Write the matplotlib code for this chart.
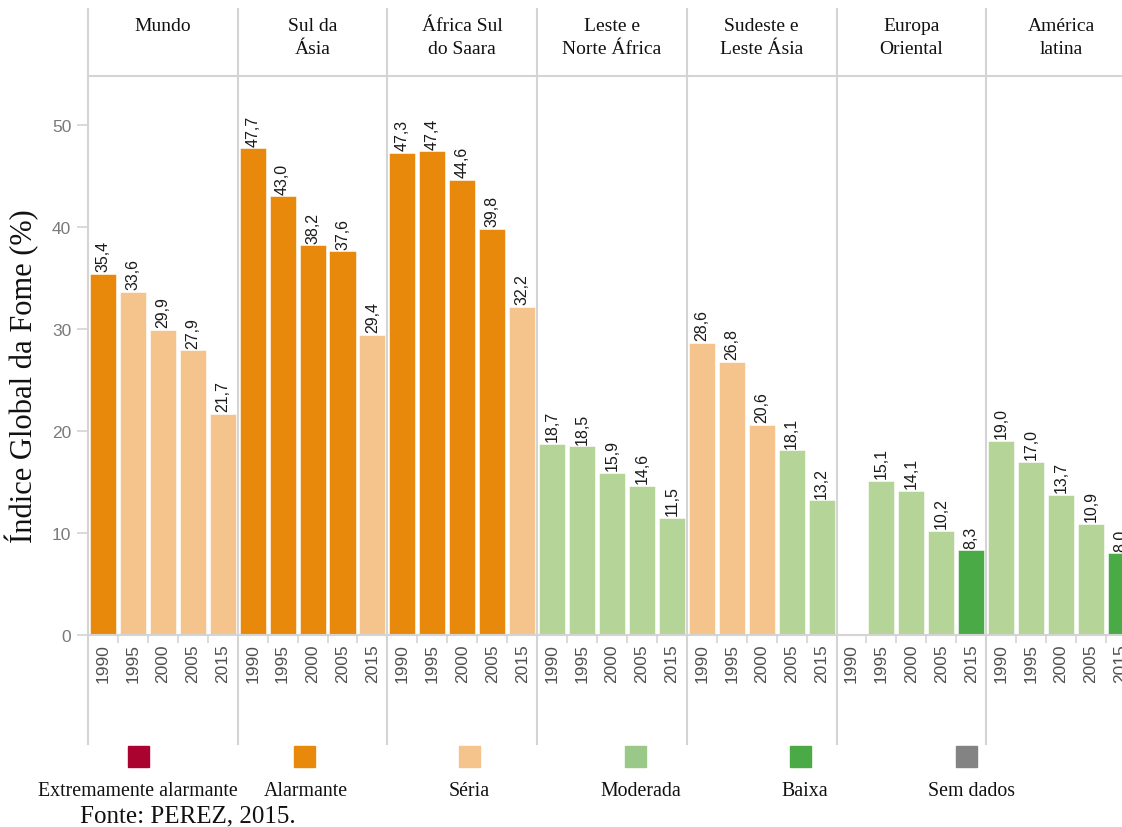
import matplotlib
matplotlib.use("Agg")
import matplotlib.pyplot as plt
from matplotlib.patches import Rectangle

# Índice Global da Fome por região e ano
regioes = ["Mundo", "Sul da\nÁsia", "África Sul\ndo Saara", "Leste e\nNorte África",
           "Sudeste e\nLeste Ásia", "Europa\nOriental", "América\nlatina"]
anos = ["1990", "1995", "2000", "2005", "2015"]

valores = [
    [35.4, 33.6, 29.9, 27.9, 21.7],
    [47.7, 43.0, 38.2, 37.6, 29.4],
    [47.3, 47.4, 44.6, 39.8, 32.2],
    [18.7, 18.5, 15.9, 14.6, 11.5],
    [28.6, 26.8, 20.6, 18.1, 13.2],
    [None, 15.1, 14.1, 10.2, 8.3],
    [19.0, 17.0, 13.7, 10.9, 8.0],
]

# classe de gravidade de cada barra
classes = [
    ["A", "S", "S", "S", "S"],
    ["A", "A", "A", "A", "S"],
    ["A", "A", "A", "A", "S"],
    ["M", "M", "M", "M", "M"],
    ["S", "S", "S", "M", "M"],
    [None, "M", "M", "M", "B"],
    ["M", "M", "M", "M", "B"],
]

cores = {"E": "#ab0330", "A": "#e8890c", "S": "#f5c48c", "M": "#b4d498",
         "B": "#4aaa45", "N": "#838383"}

legenda_rotulos = ["Extremamente alarmante", "Alarmante", "Séria", "Moderada",
                   "Baixa", "Sem dados"]
legenda_cores = ["#ab0330", "#e8890c", "#f5c48c", "#99c888", "#4aaa45", "#838383"]

SERIF = "Liberation Serif"
SANS = "Liberation Sans"
GRID = "#d4d4d4"

W, H = 1122, 828
fig = plt.figure(figsize=(W / 100, H / 100), dpi=100)

slot = 29.94
ax = fig.add_axes([88 / W, (H - 636) / H, 35 * slot / W, 559 / H])
ax.set_xlim(0, 35)
ax.set_ylim(0, 54.8)

# barras e rótulos de valor
for g, (vals, cls) in enumerate(zip(valores, classes)):
    for i, (v, c) in enumerate(zip(vals, cls)):
        if v is None:
            continue
        x = g * 5 + i + 0.5
        ax.bar(x, v, width=0.87, color=cores[c], edgecolor="white", linewidth=0.4)
        ax.annotate(f"{v:.1f}".replace(".", ","), (x, v), xytext=(0, 2),
                    textcoords="offset points", rotation=90, ha="center",
                    va="bottom", fontsize=11.5, family=SANS, color="#1a1a1a",
                    annotation_clip=False)

# eixo x: anos em cada painel
centros = [g * 5 + i + 0.5 for g in range(len(regioes)) for i in range(5)]
ax.set_xticks(centros)
ax.set_xticklabels(anos * len(regioes), rotation=90, fontsize=12.5,
                   family=SANS, color="#505050")
ax.set_xticks(range(0, 36), minor=True)
ax.tick_params(axis="x", which="major", length=0, pad=6)
ax.tick_params(axis="x", which="minor", length=6, color=GRID, width=1.2)

# eixo y
ax.set_yticks(range(0, 51, 10))
ax.set_yticklabels([str(t) for t in range(0, 51, 10)], fontsize=12.5,
                   family=SANS, color="#7a7a7a")
ax.tick_params(axis="y", length=8, color=GRID, width=1.2, pad=4)
ax.set_ylabel("Índice Global da Fome (%)", family=SERIF, fontsize=22,
              color="#111111")
ax.yaxis.set_label_coords(-0.047, 0.465)

for lado in ["left", "right"]:
    ax.spines[lado].set_visible(False)
for lado in ["top", "bottom"]:
    ax.spines[lado].set_color(GRID)
    ax.spines[lado].set_linewidth(1.5)

# separadores verticais dos painéis e cabeçalhos
trans = ax.get_xaxis_transform()
for g in range(len(regioes) + 1):
    ax.plot([g * 5, g * 5], [-0.195, 1.12], transform=trans, color=GRID,
            linewidth=1.5, clip_on=False, zorder=0)
for g, nome in enumerate(regioes):
    ax.text(g * 5 + 2.5, (636 - 18) / 559, nome, transform=trans, ha="center",
            va="top", family=SERIF, fontsize=14, linespacing=1.45,
            color="#111111", clip_on=False)

# legenda das classes
quad_x = [138, 304, 469, 635, 800, 966]
rot_x = [138, 306, 469, 641, 805, 971]
for qx, lx, rot, cor in zip(quad_x, rot_x, legenda_rotulos, legenda_cores):
    fig.add_artist(Rectangle(((qx - 10.5) / W, 1 - 768 / H), 21 / W, 21 / H,
                             transform=fig.transFigure, color=cor))
    fig.text(lx / W, 1 - 792 / H, rot, ha="center", va="center",
             family=SERIF, fontsize=14.3, color="#111111")

fig.text(80 / W, 1 - 816 / H, "Fonte: PEREZ, 2015.", ha="left", va="center",
         family=SERIF, fontsize=18, color="#111111")

fig.savefig("out.png", dpi=100)
